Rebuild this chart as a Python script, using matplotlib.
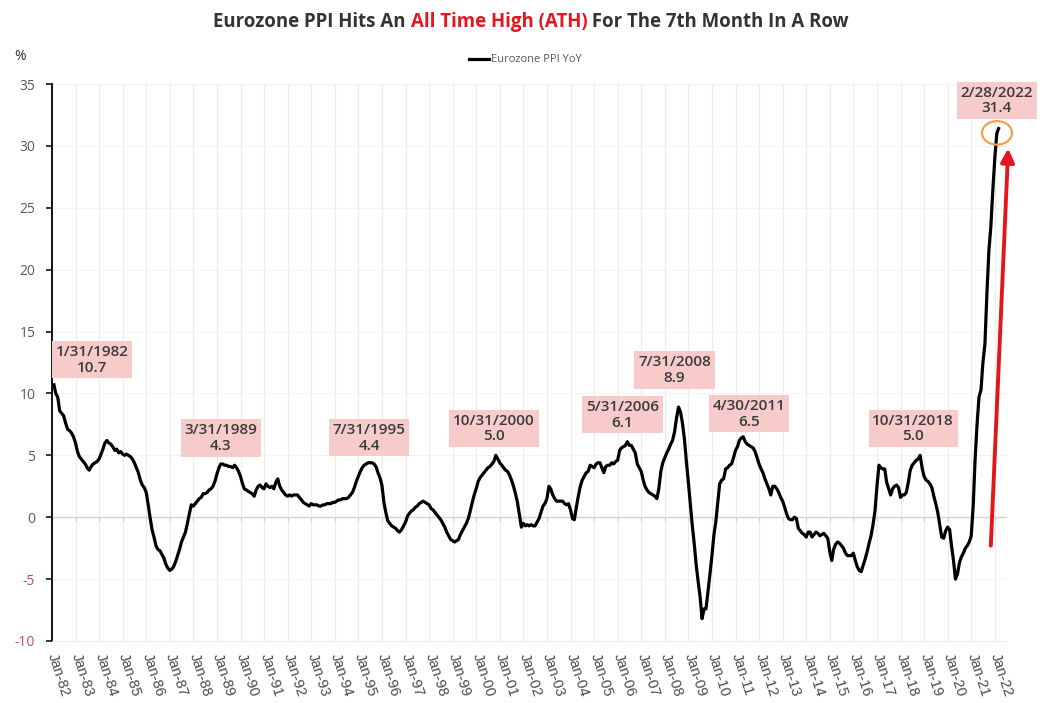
import pandas as pd
import matplotlib
matplotlib.use('Agg')
import matplotlib.pyplot as plt
import matplotlib.dates as mdates
from matplotlib.patches import Ellipse

# Eurozone PPI YoY (%), monthly, Jan 1982 - Feb 2022
ppi_yoy = [
    10.7, 10.0, 9.7, 8.6, 8.4, 8.2, 7.6, 7.1, 7.0, 6.8, 6.5, 6.0,         # 1982
    5.3, 4.9, 4.7, 4.5, 4.3, 4.0, 3.8, 4.1, 4.3, 4.4, 4.5, 4.7,           # 1983
    5.1, 5.5, 6.0, 6.2, 6.0, 5.9, 5.7, 5.4, 5.5, 5.2, 5.3, 5.1,           # 1984
    5.0, 5.1, 5.0, 4.9, 4.7, 4.4, 4.0, 3.6, 3.0, 2.6, 2.4, 2.0,           # 1985
    1.0, 0.0, -1.0, -1.6, -2.3, -2.6, -2.7, -3.0, -3.3, -3.8, -4.1, -4.3, # 1986
    -4.2, -4.0, -3.6, -3.1, -2.6, -2.0, -1.6, -1.2, -0.5, 0.3, 1.0, 0.9,  # 1987
    1.1, 1.3, 1.5, 1.6, 1.9, 1.9, 2.0, 2.2, 2.3, 2.5, 2.9, 3.5,           # 1988
    4.0, 4.3, 4.3, 4.2, 4.2, 4.1, 4.1, 4.0, 4.2, 4.0, 3.7, 3.3,           # 1989
    2.7, 2.3, 2.2, 2.1, 2.0, 1.9, 1.7, 2.2, 2.5, 2.6, 2.4, 2.3,           # 1990
    2.7, 2.5, 2.4, 2.5, 2.3, 2.8, 3.1, 2.5, 2.2, 2.0, 1.8, 1.7,           # 1991
    1.8, 1.7, 1.8, 1.8, 1.8, 1.6, 1.4, 1.2, 1.1, 1.0, 0.9, 1.1,           # 1992
    1.0, 1.0, 1.0, 0.9, 0.9, 1.0, 1.0, 1.1, 1.1, 1.1, 1.2, 1.2,           # 1993
    1.3, 1.4, 1.4, 1.5, 1.5, 1.5, 1.6, 1.8, 2.0, 2.4, 2.9, 3.3,           # 1994
    3.7, 4.0, 4.2, 4.3, 4.4, 4.4, 4.4, 4.3, 4.1, 3.6, 3.2, 2.6,           # 1995
    1.2, 0.4, -0.3, -0.5, -0.7, -0.8, -0.9, -1.1, -1.2, -1.0, -0.7, -0.4, # 1996
    0.1, 0.3, 0.5, 0.6, 0.8, 0.9, 1.1, 1.2, 1.3, 1.2, 1.1, 1.0,           # 1997
    0.7, 0.6, 0.4, 0.2, 0.0, -0.2, -0.5, -0.8, -1.2, -1.5, -1.8, -1.9,    # 1998
    -2.0, -1.9, -1.8, -1.4, -1.1, -0.8, -0.5, -0.1, 0.5, 1.2, 1.8, 2.3,   # 1999
    2.9, 3.2, 3.4, 3.6, 3.8, 4.0, 4.1, 4.3, 4.5, 5.0, 4.7, 4.4,           # 2000
    4.2, 4.0, 3.8, 3.7, 3.4, 3.0, 2.5, 1.9, 1.2, 0.2, -0.8, -0.5,         # 2001
    -0.7, -0.6, -0.7, -0.6, -0.7, -0.7, -0.4, -0.1, 0.4, 0.9, 1.1, 1.5,   # 2002
    2.5, 2.3, 1.8, 1.5, 1.3, 1.3, 1.3, 1.3, 1.1, 1.0, 1.1, 0.6,           # 2003
    -0.1, -0.2, 0.8, 1.7, 2.5, 3.0, 3.3, 3.6, 3.7, 4.2, 4.1, 4.0,         # 2004
    4.3, 4.4, 4.4, 4.0, 3.6, 4.1, 4.2, 4.2, 4.4, 4.3, 4.5, 4.6,           # 2005
    5.4, 5.6, 5.7, 5.8, 6.1, 5.8, 5.8, 5.5, 5.2, 4.3, 4.0, 3.7,           # 2006
    3.0, 2.5, 2.2, 2.0, 1.9, 1.8, 1.7, 1.5, 2.3, 3.7, 4.4, 4.8,           # 2007
    5.2, 5.5, 5.9, 6.2, 6.9, 8.0, 8.9, 8.5, 7.6, 6.3, 4.5, 2.8,           # 2008
    1.0, -0.6, -2.1, -3.8, -5.2, -6.4, -8.2, -7.4, -7.4, -6.0, -4.6, -3.1, # 2009
    -1.4, -0.4, 1.2, 2.7, 3.0, 3.1, 3.9, 4.0, 4.2, 4.3, 4.8, 5.4,         # 2010
    5.7, 6.2, 6.4, 6.5, 6.1, 5.9, 5.8, 5.7, 5.6, 5.3, 4.8, 4.3,           # 2011
    3.9, 3.6, 3.1, 2.7, 2.3, 1.8, 2.5, 2.5, 2.3, 2.0, 1.6, 1.3,           # 2012
    0.8, 0.3, -0.1, -0.2, -0.2, 0.0, -0.1, -0.9, -1.1, -1.3, -1.4, -1.6,  # 2013
    -1.2, -1.2, -1.6, -1.4, -1.2, -1.3, -1.5, -1.4, -1.3, -1.5, -1.7, -2.8, # 2014
    -3.5, -2.6, -2.2, -2.0, -2.1, -2.3, -2.5, -2.9, -3.1, -3.1, -3.1, -2.9, # 2015
    -3.5, -4.0, -4.3, -4.4, -3.9, -3.4, -2.8, -2.1, -1.5, -0.6, 0.5, 2.5, # 2016
    4.2, 4.0, 3.9, 3.9, 2.8, 2.3, 1.8, 2.3, 2.5, 2.6, 2.4, 1.6,           # 2017
    1.8, 1.8, 2.0, 2.8, 3.8, 4.2, 4.4, 4.6, 4.7, 5.0, 4.0, 3.3,           # 2018
    3.0, 2.9, 2.7, 2.4, 1.7, 1.1, 0.4, -0.6, -1.6, -1.7, -1.1, -0.8,      # 2019
    -1.0, -2.3, -3.5, -5.0, -4.6, -3.7, -3.2, -2.9, -2.5, -2.3, -2.0, -1.5, # 2020
    1.0, 4.6, 7.5, 9.7, 10.3, 12.5, 14.0, 18.1, 21.5, 23.5, 26.4, 29.0,   # 2021
    31.0, 31.4,                                                           # 2022
]
dates = pd.date_range('1982-01-31', periods=len(ppi_yoy), freq='ME')
series = pd.Series(ppi_yoy, index=dates)

peak_dates = ['1982-01-31', '1989-03-31', '1995-07-31', '2000-10-31', '2006-05-31',
              '2008-07-31', '2011-04-30', '2018-10-31', '2022-02-28']
y_ticks = [-10, -5, 0, 5, 10, 15, 20, 25, 30, 35]

DARK = '#333333'
GREY = '#595959'
RED = '#e3161e'
NEG = '#c0504d'

fig = plt.figure(figsize=(10.6, 7.03), dpi=100)
ax = fig.add_axes([52 / 1060, 62 / 703, 955 / 1060, 557 / 703])

ax.plot(series.index, series.values, color='black', lw=2.3, zorder=3,
        solid_joinstyle='round', label='Eurozone PPI YoY')

ax.set_ylim(-10, 35)
ax.set_yticks(y_ticks)
ax.set_xlim(pd.Timestamp('1982-01-01'), pd.Timestamp('2022-07-08'))
ax.xaxis.set_major_locator(mdates.YearLocator())
ax.xaxis.set_major_formatter(mdates.DateFormatter('%b-%y'))

ax.grid(True, axis='x', color='#ececec', lw=0.8)
ax.grid(True, axis='y', color='#f2f2f2', lw=0.8)
ax.set_axisbelow(True)

for s in ['top', 'right']:
    ax.spines[s].set_visible(False)
ax.spines['left'].set_color('black')
ax.spines['left'].set_linewidth(1.3)
ax.spines['bottom'].set_color('#f0f0f0')

ax.tick_params(axis='y', direction='out', length=4, width=1.1, color='black', pad=8)
ax.tick_params(axis='x', length=0, pad=9)
for lab, v in zip(ax.set_yticklabels([str(t) for t in y_ticks]), y_ticks):
    lab.set_fontfamily('Open Sans')
    lab.set_fontsize(10)
    lab.set_color(NEG if v < 0 else GREY)
for lab in ax.get_xticklabels():
    lab.set_fontfamily('Liberation Sans')
    lab.set_fontsize(10.5)
    lab.set_color('#4a4a4a')
    lab.set_rotation(-72)
    lab.set_rotation_mode('anchor')
    lab.set_ha('left')
    lab.set_va('center')

# zero line with small ticks, like the category axis crossing at 0
ax.axhline(0, color='#d4d4d4', lw=1, zorder=1)
year_ticks = pd.date_range('1982-01-01', '2022-01-01', freq='YS')
ax.vlines(year_ticks, -0.28, 0, color='#d4d4d4', lw=1, zorder=1)

# peak labels
offsets = [(38, 25), (-2, 26), (-3, 25), (-2, 27), (-5, 27), (-4, 37), (6, 23), (-7, 27), (-2, 28)]
for d, (dx, dy) in zip(peak_dates, offsets):
    d = pd.Timestamp(d)
    v = series[d]
    ax.annotate(f'{d.month}/{d.day}/{d.year}\n{v:.1f}', xy=(d, v), xytext=(dx, dy),
                textcoords='offset pixels', ha='center', va='center',
                fontsize=11, fontfamily='Open Sans', fontweight='semibold', color='#3b3b3b',
                linespacing=1.15, zorder=5, annotation_clip=False,
                bbox=dict(boxstyle='square,pad=0.25', fc='#f8cbcb', ec='none'))

# circle around the latest reading and the red arrow
last_d = series.index[-1]
last_v = series.iloc[-1]
ax.add_patch(Ellipse((mdates.date2num(last_d) - 25, last_v - 0.35), 465, 1.9,
                     fill=False, ec='#f0a050', lw=1.6, zorder=4, clip_on=False))
ax.annotate('', xy=(pd.Timestamp('2022-07-27'), 29.8), xytext=(pd.Timestamp('2021-10-30'), -2.3),
            arrowprops=dict(arrowstyle='-|>,head_length=0.5,head_width=0.25', color=RED,
                            lw=2.8, mutation_scale=16, shrinkA=0, shrinkB=0),
            annotation_clip=False, zorder=4)

# legend
leg = fig.legend(loc='center', bbox_to_anchor=(525 / 1060, 1 - 60 / 703), frameon=False,
                 handlelength=1.8, handletextpad=0.2, prop={'family': 'Open Sans', 'size': 8})
for t in leg.get_texts():
    t.set_color(GREY)

fig.text(14 / 1060, 1 - 56 / 703, '%', fontsize=10, color=DARK, va='center', ha='left',
         fontfamily='Open Sans')

# title with red middle part, centred as a whole
parts = [('Eurozone PPI Hits An ', DARK), ('All Time High (ATH)', RED),
         (' For The 7th Month In A Row', DARK)]
ty = 1 - 22 / 703
texts = []
for s, c in parts:
    texts.append(fig.text(0.5, ty, s, color=c, fontsize=13.4, fontweight='bold',
                          fontfamily='Open Sans', va='center', ha='left'))
fig.canvas.draw()
r = fig.canvas.get_renderer()
widths = [t.get_window_extent(r).width for t in texts]
x = 531 - sum(widths) / 2
for t, w in zip(texts, widths):
    t.set_position((x / 1060, ty))
    x += w

fig.savefig('out.png', dpi=100)
